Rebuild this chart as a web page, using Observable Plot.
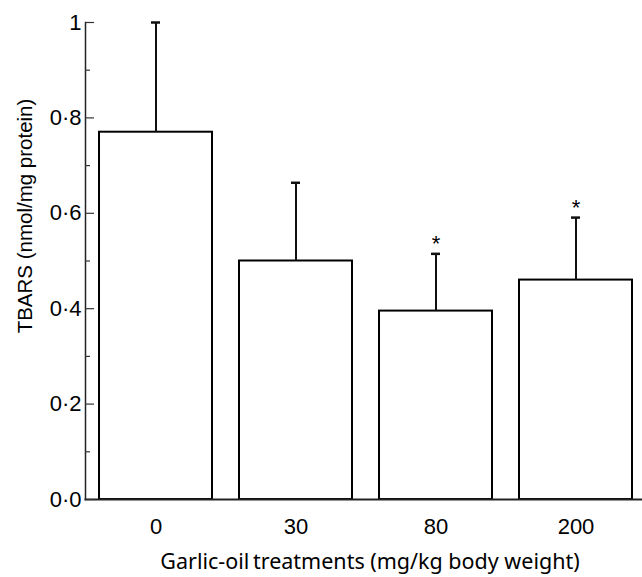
<!DOCTYPE html>
<html>
<head>
<meta charset="utf-8">
<script src="https://cdn.jsdelivr.net/npm/d3@7"></script>
<script src="https://cdn.jsdelivr.net/npm/@observablehq/plot@0.6"></script>
<style>
  html, body { margin: 0; padding: 0; background: #fff; }
  #chart svg { display: block; }
</style>
</head>
<body>
<div id="chart"></div>
<script>
// ---- data ----
const doses = ["0", "30", "80", "200"];
const means = [0.77, 0.50, 0.395, 0.46];
const sems = [0.23, 0.164, 0.12, 0.131];
const marks = ["", "", "*", "*"];
const yMajorTicks = [0, 0.2, 0.4, 0.6, 0.8, 1];
const yTickLabels = ["0·0", "0·2", "0·4", "0·6", "0·8", "1"];
const yMinorTicks = [0.1, 0.3, 0.5, 0.7, 0.9];
const xTitle = "Garlic-oil\u2009treatments (mg/kg body weight)";
const yTitle = "TBARS (nmol/mg protein)";

const data = doses.map((d, i) => ({dose: d, mean: means[i], sem: sems[i], top: means[i] + sems[i], mark: marks[i]}));
const labelOf = new Map(yMajorTicks.map((t, i) => [t, yTickLabels[i]]));

const chart = Plot.plot({
  width: 642,
  height: 577,
  marginTop: 22,
  marginBottom: 78,
  marginLeft: 85,
  marginRight: 0,
  style: {fontFamily: "'Liberation Sans', Arial, sans-serif", fontSize: "22px", color: "#000", background: "#fff"},
  x: {type: "band", domain: doses, range: [85, 645], paddingInner: 0.195, paddingOuter: 0.0975, axis: null},
  y: {domain: [0, 1], axis: null},
  marks: [
    Plot.barY(data, {x: "dose", y: "mean", fill: "#fff", stroke: "#000", strokeWidth: 2}),
    Plot.ruleX(data, {x: "dose", y1: "mean", y2: "top", stroke: "#111", strokeWidth: 2}),
    Plot.tickY(data, {x: "dose", y: "top", stroke: "#111", strokeWidth: 2.5, insetLeft: 52, insetRight: 52}),
    Plot.text(data, {x: "dose", y: "top", text: "mark", dy: -10, fontSize: 22}),
    Plot.frame({anchor: "left", stroke: "#222", strokeWidth: 1.5}),
    Plot.frame({anchor: "bottom", stroke: "#222", strokeWidth: 2}),
    Plot.axisY({ticks: yMajorTicks, tickSize: -9, tickFormat: () => "", stroke: "#333", strokeWidth: 1.2}),
    Plot.axisY({ticks: yMinorTicks, tickSize: -5, tickFormat: () => "", stroke: "#333", strokeWidth: 1.2}),
    Plot.axisY({ticks: yMajorTicks, tickSize: 0, tickPadding: 4, tickFormat: (d) => labelOf.get(d), fontSize: 22, fill: "#000", label: null}),
    Plot.axisX({tickSize: 0, tickPadding: 19, fontSize: 22, fill: "#000", label: null}),
    Plot.text([xTitle], {text: (d) => d, frameAnchor: "bottom", lineAnchor: "middle", textAnchor: "middle", dy: 63, dx: 6, fontSize: 21.5, fontFamily: "'Noto Sans', 'Open Sans', sans-serif", fill: "#000"}),
    Plot.text([yTitle], {text: (d) => d, frameAnchor: "left", lineAnchor: "middle", textAnchor: "middle", rotate: -90, dx: -60, dy: -45, fontSize: 20.5, fill: "#000"})
  ]
});
document.getElementById("chart").appendChild(chart);
</script>
</body>
</html>
